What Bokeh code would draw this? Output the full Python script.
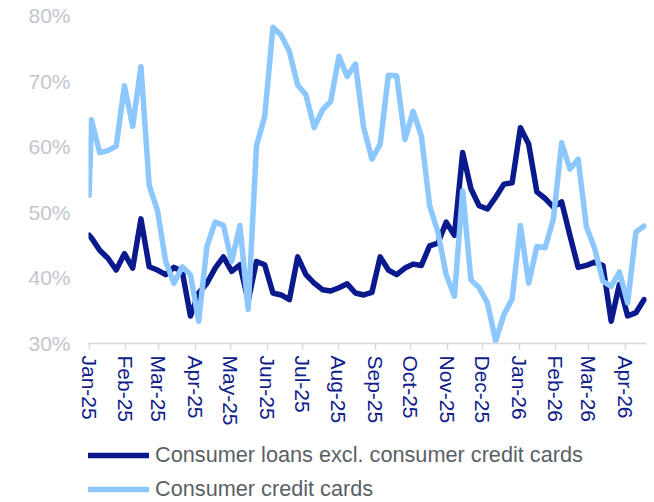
import datetime as dt
import pandas as pd
from bokeh.plotting import figure
from bokeh.layouts import column
from bokeh.models import (Range1d, FixedTicker, PrintfTickFormatter, MonthsTicker,
                          DatetimeTickFormatter, Legend, LegendItem, ColumnDataSource)
from bokeh.embed import file_html
from bokeh.resources import INLINE

# ---- data ----
first_date = "2025-01-01"
weekly_start = "2025-01-03"

loans_excl_cards = [
    46.5, 46.1, 44.2, 43.0, 41.2, 43.7, 41.5, 49.0, 41.7, 41.2,
    40.5, 41.6, 41.0, 34.2, 37.7, 39.2, 41.5, 43.2, 41.0, 42.0,
    36.5, 42.5, 42.0, 37.7, 37.4, 36.7, 43.2, 40.5, 39.2, 38.2,
    38.0, 38.5, 39.1, 37.7, 37.4, 37.8, 43.2, 41.2, 40.5, 41.5,
    42.1, 41.9, 44.9, 45.3, 48.5, 46.5, 59.1, 53.6, 51.0, 50.5,
    52.3, 54.3, 54.5, 62.9, 60.4, 53.1, 52.1, 50.8, 51.6, 46.5,
    41.6, 41.9, 42.4, 41.9, 33.4, 39.0, 34.2, 34.7, 36.7,
]
credit_cards = [
    52.6, 64.1, 59.1, 59.4, 60.1, 69.3, 63.1, 72.2, 54.1, 50.3,
    42.5, 39.2, 41.7, 40.5, 33.4, 44.8, 48.5, 48.0, 42.5, 48.0,
    35.2, 60.1, 64.6, 78.2, 77.0, 74.5, 69.4, 67.9, 62.9, 65.6,
    66.9, 73.8, 70.7, 72.6, 62.9, 58.1, 60.4, 70.9, 70.8, 61.1,
    65.4, 61.6, 51.0, 47.0, 40.5, 37.2, 53.3, 39.7, 38.5, 36.2,
    30.4, 34.4, 36.8, 48.0, 39.2, 44.8, 44.6, 49.0, 60.6, 56.6,
    58.1, 47.8, 44.5, 39.5, 38.7, 40.9, 36.2, 47.0, 47.9,
]
series_labels = ["Consumer loans excl. consumer credit cards", "Consumer credit cards"]
y_ticks = [30, 40, 50, 60, 70, 80]

dates = [pd.Timestamp(first_date)] + list(
    pd.date_range(weekly_start, periods=len(loans_excl_cards) - 1, freq="7D"))

src = ColumnDataSource(dict(date=dates, loans=loans_excl_cards, cards=credit_cards))

DARK = "#0a1a8c"
LIGHT = "#8cc8ff"
FONT = "Liberation Sans"

p = figure(width=650, height=428, x_axis_type="datetime",
           output_backend="svg", toolbar_location=None,
           x_range=Range1d(dt.datetime(2024, 12, 31, 12), dt.datetime(2026, 4, 19)),
           y_range=Range1d(30, 80),
           min_border_left=88, min_border_right=4, min_border_top=15,
           min_border_bottom=82)
p.outline_line_color = None
p.xgrid.visible = False
p.ygrid.visible = False

# x axis
xa = p.xaxis[0]
xa.ticker = MonthsTicker(months=list(range(1, 13)))
xa.formatter = DatetimeTickFormatter(days="%b-%y", months="%b-%y", years="%b-%y")
xa.major_label_orientation = "vertical"
xa.major_label_text_font = FONT
xa.major_label_text_font_size = "21px"
xa.major_label_text_color = "#10208a"
xa.axis_line_color = "#d5d8dd"
xa.axis_line_width = 1.5
xa.major_tick_line_color = "#d5d8dd"
xa.major_tick_line_width = 1.5
xa.major_tick_out = 6
xa.major_tick_in = 0
xa.minor_tick_line_color = None
xa.major_label_standoff = 6

# y axis
ya = p.yaxis[0]
ya.ticker = FixedTicker(ticks=y_ticks)
ya.formatter = PrintfTickFormatter(format="%d%%")
ya.axis_line_color = None
ya.major_tick_line_color = None
ya.minor_tick_line_color = None
ya.major_tick_out = 0
ya.major_tick_in = 0
ya.major_label_text_font = FONT
ya.major_label_text_font_size = "21px"
ya.major_label_text_color = "#c2c6ce"
ya.major_label_standoff = 18

line_styles = dict(line_width=5.5, line_join="round", line_cap="round")
p.line("date", "loans", source=src, line_color=DARK, **line_styles)
p.line("date", "cards", source=src, line_color=LIGHT, **line_styles)

# ---- legend strip below the chart (its frame is aligned with the chart's) ----
lg = figure(width=650, height=74, output_backend="svg", toolbar_location=None,
            x_axis_location=None, y_axis_location=None,
            x_range=Range1d(0, 1), y_range=Range1d(0, 1), min_border=0)
lg.outline_line_color = None
lg.xgrid.visible = False
lg.ygrid.visible = False
# same series, drawn far outside this strip's ranges: only their legend keys show
k1 = lg.line("date", "loans", source=src, line_color=DARK, **line_styles)
k2 = lg.line("date", "cards", source=src, line_color=LIGHT, **line_styles)

legend = Legend(items=[LegendItem(label=series_labels[0], renderers=[k1]),
                       LegendItem(label=series_labels[1], renderers=[k2])],
                location=(0, 0), orientation="vertical",
                glyph_width=61, glyph_height=26, label_height=26,
                label_standoff=6, spacing=8, padding=0, margin=0,
                border_line_color=None, background_fill_alpha=0,
                label_text_font=FONT, label_text_font_size="21.7px",
                label_text_color="#5a5f66")
lg.add_layout(legend)

open("out.html", "w").write(file_html(column(p, lg), INLINE))
